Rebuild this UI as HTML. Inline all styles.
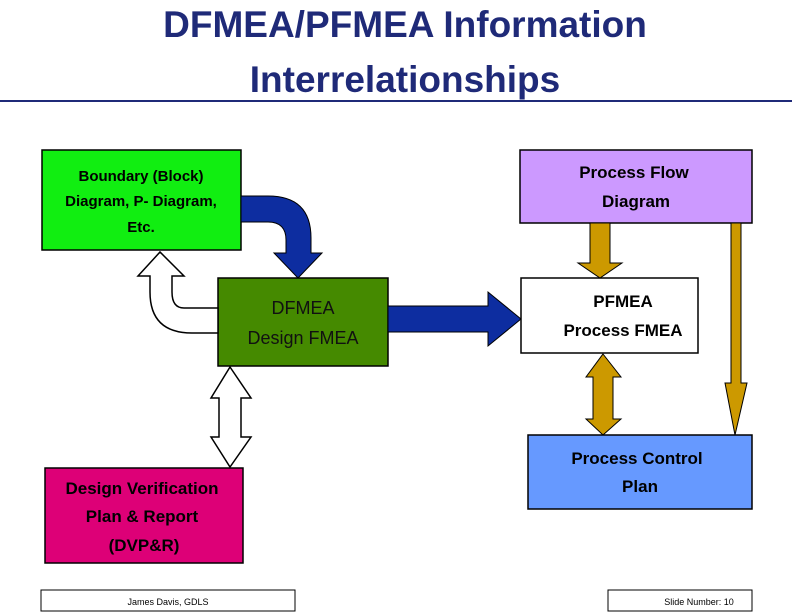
<!DOCTYPE html>
<html><head><style>
body{margin:0;width:792px;height:612px;background:#fff;overflow:hidden}
svg{display:block}
text{font-family:"Liberation Sans",Arial,sans-serif;font-weight:bold}
</style></head><body>
<svg width="792" height="612" viewBox="0 0 792 612">
<text x="405" y="37" font-size="37" fill="#1f2a78" text-anchor="middle">DFMEA/PFMEA Information</text>
<text x="405" y="92" font-size="37" fill="#1f2a78" text-anchor="middle">Interrelationships</text>
<line x1="0" y1="101" x2="792" y2="101" stroke="#1f2a78" stroke-width="2"/>

<rect x="42" y="150" width="199" height="100" fill="#11ee11" stroke="#000" stroke-width="1.5"/>
<text font-size="15" text-anchor="middle"><tspan x="141" y="181">Boundary (Block)</tspan><tspan x="141" y="206">Diagram, P- Diagram,</tspan><tspan x="141" y="232">Etc.</tspan></text>

<rect x="520" y="150" width="232" height="73" fill="#cc99ff" stroke="#000" stroke-width="1.5"/>
<text font-size="17" text-anchor="middle"><tspan x="634" y="178">Process Flow</tspan><tspan x="636" y="207">Diagram</tspan></text>

<path d="M241,196 L268,196 Q311,196 311,238 L311,253 L322,253 L298,278 L274,253 L286,253 L286,240 Q286,222 268,222 L241,222 Z" fill="#0d2da0" stroke="#000" stroke-width="1"/>

<rect x="218" y="278" width="170" height="88" fill="#458a00" stroke="#000" stroke-width="1.5"/>
<text font-size="18" text-anchor="middle" fill="#111" font-weight="normal" style="font-weight:normal"><tspan x="303" y="314">DFMEA</tspan><tspan x="303" y="344">Design FMEA</tspan></text>

<path d="M388,306 L488,306 L488,292 L521,319 L488,346 L488,332 L388,332 Z" fill="#0d2da0" stroke="#000" stroke-width="1"/>

<path d="M218,308 L184,308 Q172,308 172,292 L172,276 L184,276 L160,252 L138,276 L150,276 L150,292 Q150,333 192,333 L218,333 Z" fill="#fff" stroke="#000" stroke-width="1.5"/>

<path d="M230,367 L251,398 L241,398 L241,437 L251,437 L230,467 L211,437 L219,437 L219,398 L211,398 Z" fill="#fff" stroke="#000" stroke-width="1.5"/>

<rect x="521" y="278" width="177" height="75" fill="#fff" stroke="#000" stroke-width="1.5"/>
<text font-size="17" text-anchor="middle"><tspan x="623" y="307">PFMEA</tspan><tspan x="623" y="336">Process FMEA</tspan></text>

<path d="M590,223 L610,223 L610,263 L622,263 L600,278 L578,263 L590,263 Z" fill="#cc9900" stroke="#000" stroke-width="1"/>
<path d="M603,354 L621,377 L613,377 L613,419 L621,419 L603,435 L586,419 L593,419 L593,377 L586,377 Z" fill="#cc9900" stroke="#000" stroke-width="1"/>
<path d="M731,223 L741,223 L741,383 L747,383 L735,435 L725,383 L731,383 Z" fill="#cc9900" stroke="#000" stroke-width="1"/>

<rect x="528" y="435" width="224" height="74" fill="#6699ff" stroke="#000" stroke-width="1.5"/>
<text font-size="17" text-anchor="middle"><tspan x="637" y="464">Process Control</tspan><tspan x="640" y="492">Plan</tspan></text>

<rect x="45" y="468" width="198" height="95" fill="#dd0077" stroke="#000" stroke-width="1.5"/>
<text font-size="17" text-anchor="middle"><tspan x="142" y="494">Design Verification</tspan><tspan x="142" y="522">Plan &amp; Report</tspan><tspan x="144" y="551">(DVP&amp;R)</tspan></text>

<rect x="41" y="590" width="254" height="21" fill="#fff" stroke="#000" stroke-width="1"/>
<text x="168" y="605" font-size="9" text-anchor="middle" style="font-weight:normal">James Davis, GDLS</text>
<rect x="608" y="590" width="144" height="21" fill="#fff" stroke="#000" stroke-width="1"/>
<text x="699" y="605" font-size="9" text-anchor="middle" style="font-weight:normal">Slide Number: 10</text>
</svg>
</body></html>
